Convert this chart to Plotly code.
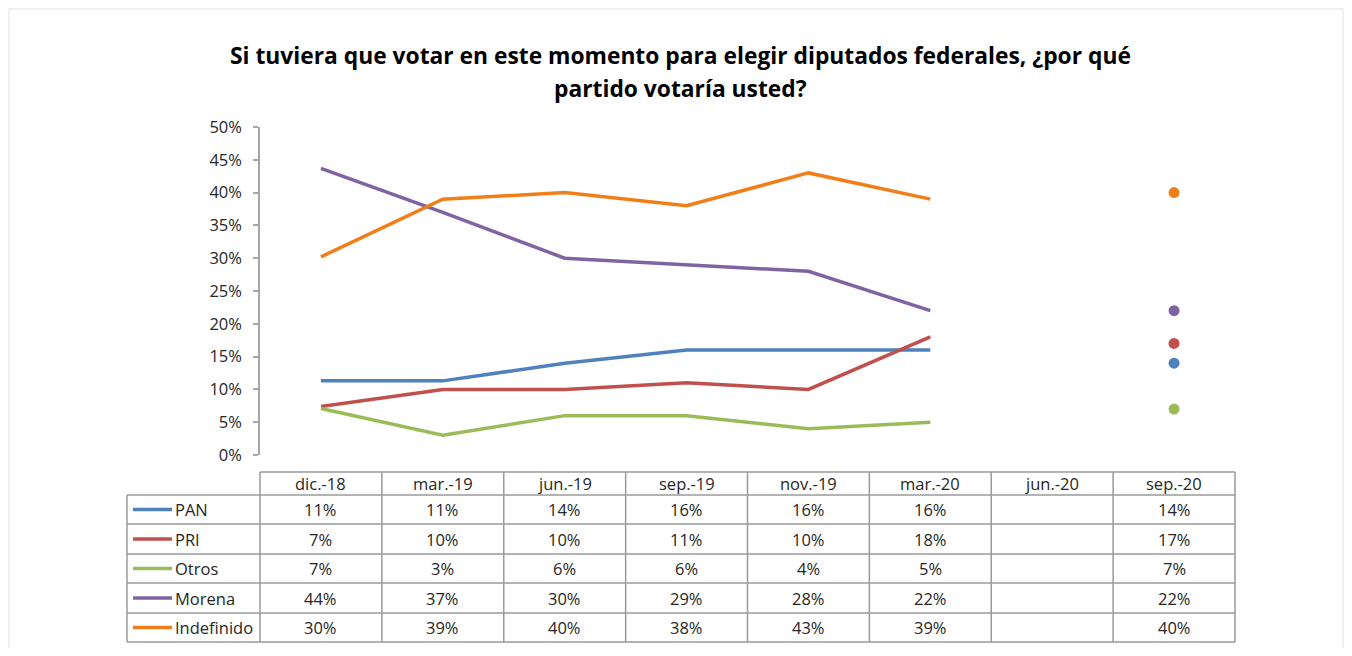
import plotly.graph_objects as go

# ---------------- data ----------------
periods = ["dic.-18", "mar.-19", "jun.-19", "sep.-19", "nov.-19", "mar.-20", "jun.-20", "sep.-20"]
parties = ["PAN", "PRI", "Otros", "Morena", "Indefinido"]
# survey values (%) ; None = no survey
pan = [11.3, 11.3, 14, 16, 16, 16, None, 14]
pri = [7.4, 10, 10, 11, 10, 18, None, 17]
otros = [7.1, 3, 6, 6, 4, 5, None, 7]
morena = [43.7, 37, 30, 29, 28, 22, None, 22]
indefinido = [30.2, 39, 40, 38, 43, 39, None, 40]
y_ticks = [0, 5, 10, 15, 20, 25, 30, 35, 40, 45, 50]
title_lines = ["Si tuviera que votar en este momento para elegir diputados federales, ¿por qué",
               "partido votaría usted?"]

series = [pan, pri, otros, morena, indefinido]
colors = ["#4F81BD", "#C0504D", "#9BBB59", "#8064A2", "#F07F1A"]

# ---------------- layout constants (screen pixels) ----------------
OFF = 8                      # default page body margin
W, H = 1352 - 2 * OFF, 656 - 2 * OFF
SL, SR, ST, SB = 260, 1235, 127, 455   # plot area in screen pixels
L, R, T, B = SL - OFF, SR - OFF, ST - OFF, SB - OFF
FONT = "Open Sans"
GRID = "#9a9a9a"
TXT = "#262626"
FS = 16.5

def py(p):  # screen pixel y -> paper y
    return (SB - p) / (SB - ST)

def px(p):  # screen pixel x -> paper x
    return (p - SL) / (SR - SL)

fig = go.Figure()
x_idx = list(range(len(periods)))
LINE_END = 5  # lines drawn through mar.-20, last survey shown as dot
for name, vals, col in zip(parties, series, colors):
    fig.add_trace(go.Scatter(
        x=x_idx[:LINE_END + 1], y=vals[:LINE_END + 1], mode="lines",
        line=dict(color=col, width=3.5), name=name, showlegend=False,
        hoverinfo="skip"))
    fig.add_trace(go.Scatter(
        x=[x_idx[-1]], y=[vals[-1]], mode="markers",
        marker=dict(color=col, size=11), name=name, showlegend=False,
        hoverinfo="skip"))

shapes = []
annotations = []

# table geometry (screen pixels)
header_top = 472
row_edges = [495, 524, 554, 583, 613, 642]
legend_left = 127

shapes.append(dict(type="line", xref="paper", yref="paper", x0=px(SL), x1=px(SR),
                   y0=py(header_top), y1=py(header_top), line=dict(color=GRID, width=1.5)))
for e in row_edges:
    shapes.append(dict(type="line", xref="paper", yref="paper", x0=px(legend_left), x1=px(SR),
                       y0=py(e), y1=py(e), line=dict(color=GRID, width=1.5)))
shapes.append(dict(type="line", xref="paper", yref="paper", x0=px(legend_left), x1=px(legend_left),
                   y0=py(row_edges[0]), y1=py(row_edges[-1]), line=dict(color=GRID, width=1.5)))
col_w = (SR - SL) / len(periods)
for i in range(len(periods) + 1):
    xb = px(SL + i * col_w)
    shapes.append(dict(type="line", xref="paper", yref="paper", x0=xb, x1=xb,
                       y0=py(header_top), y1=py(row_edges[-1]), line=dict(color=GRID, width=1.5)))

for i, p in enumerate(periods):
    annotations.append(dict(x=i, y=py((header_top + row_edges[0]) / 2), xref="x", yref="paper",
                            text=p, showarrow=False, font=dict(family=FONT, size=FS, color=TXT),
                            xanchor="center", yanchor="middle"))
for r, (name, vals, col) in enumerate(zip(parties, series, colors)):
    yc = py((row_edges[r] + row_edges[r + 1]) / 2)
    shapes.append(dict(type="line", xref="paper", yref="paper", x0=px(133), x1=px(172),
                       y0=yc, y1=yc, line=dict(color=col, width=3.5)))
    annotations.append(dict(x=px(173), y=yc, xref="paper", yref="paper", text=name,
                            showarrow=False, xanchor="left", yanchor="middle",
                            font=dict(family=FONT, size=FS, color=TXT)))
    for i, v in enumerate(vals):
        if v is None:
            continue
        annotations.append(dict(x=i, y=yc, xref="x", yref="paper", text=f"{round(v)}%",
                                showarrow=False, xanchor="center", yanchor="middle",
                                font=dict(family=FONT, size=FS, color=TXT)))

# outer frame (faint)
shapes.append(dict(type="rect", xref="paper", yref="paper", x0=px(9), x1=px(1343),
                   y0=py(700), y1=py(9), line=dict(color="#ececec", width=1.5), layer="below"))

# title
for k, yy in enumerate([56, 88]):
    annotations.append(dict(x=px(680), y=py(yy), xref="paper", yref="paper",
                            text=title_lines[k], showarrow=False, xanchor="center", yanchor="middle",
                            font=dict(family=FONT, size=22.8, color="#000000", weight="bold")))

fig.update_layout(
    width=W, height=H,
    margin=dict(l=L, r=W - R, t=T, b=H - B, pad=0),
    paper_bgcolor="white", plot_bgcolor="white",
    shapes=shapes, annotations=annotations,
    showlegend=False,
    xaxis=dict(range=[-0.5, len(periods) - 0.5], showticklabels=False, showgrid=False,
               zeroline=False, showline=False, ticks="", fixedrange=True),
    yaxis=dict(range=[0, 50], tickvals=y_ticks, ticktext=[f"{t}%" for t in y_ticks],
               showgrid=False, zeroline=False, showline=True, linecolor="#a6a6a6", linewidth=1.5,
               ticks="outside", ticklen=5, tickcolor="#a6a6a6", tickwidth=1.5,
               ticklabelstandoff=8,
               tickfont=dict(family=FONT, size=FS, color=TXT), fixedrange=True),
)

fig.write_html("out.html")
